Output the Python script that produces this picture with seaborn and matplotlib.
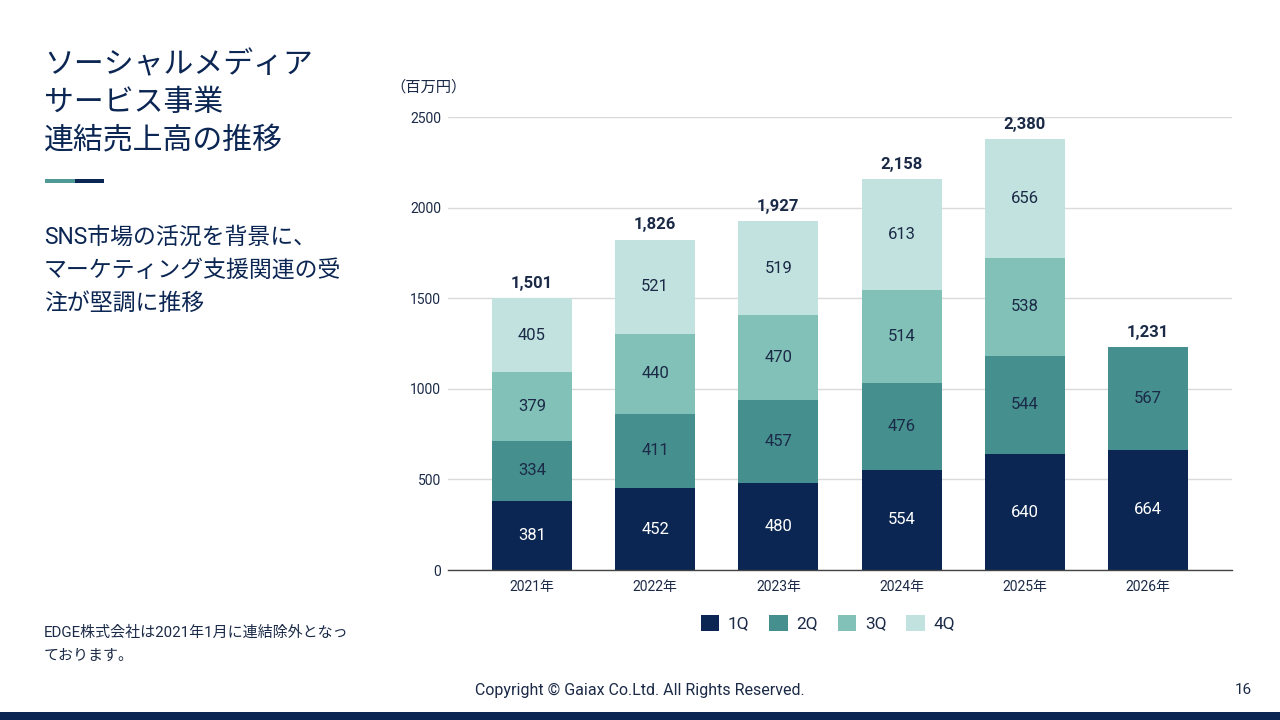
import numpy as np
import pandas as pd
import seaborn as sns
import matplotlib.pyplot as plt
from matplotlib.patches import Patch, Rectangle

# Data
years = ['2021年', '2022年', '2023年', '2024年', '2025年', '2026年']
q1 = [381, 452, 480, 554, 640, 664]
q2 = [334, 411, 457, 476, 544, 567]
q3 = [379, 440, 470, 514, 538, np.nan]
q4 = [405, 521, 519, 613, 656, np.nan]
totals = [1501, 1826, 1927, 2158, 2380, 1231]
quarters = ['1Q', '2Q', '3Q', '4Q']
y_ticks = [0, 500, 1000, 1500, 2000, 2500]

colors = ['#0B2653', '#458F8F', '#82C1B7', '#C1E2DF']
label_colors = ['white', '#1B2A47', '#1B2A47', '#1B2A47']
navy = '#0B2653'
text_col = '#1B2A47'

sns.set_theme(style='white')
plt.rcParams['font.family'] = ['Roboto', 'Noto Sans CJK JP', 'DejaVu Sans']

df = pd.DataFrame({'year': years, '1Q': q1, '2Q': q2, '3Q': q3, '4Q': q4})
layers = df[quarters].to_numpy(dtype=float)
cum = np.cumsum(layers, axis=1)

fig = plt.figure(figsize=(12.8, 7.2), dpi=100)
ax = fig.add_axes([0.35, 0.2083, 0.6125, 0.629])

# stacked bars: draw cumulative heights from top layer down
for i in range(3, -1, -1):
    sns.barplot(x=df['year'], y=cum[:, i], color=colors[i], width=0.65,
                saturation=1, edgecolor='none', linewidth=0, ax=ax, zorder=2)

ax.set_ylim(0, 2500)
ax.set_xlim(-0.68, 5.68)
ax.set_yticks(y_ticks)
ax.set_ylabel('')
ax.set_xlabel('')
ax.yaxis.grid(True, color='#DADADA', linewidth=1, zorder=0)
ax.set_axisbelow(True)
for s in ['top', 'right', 'left']:
    ax.spines[s].set_visible(False)
ax.spines['bottom'].set_color('#444444')
ax.spines['bottom'].set_linewidth(1)
ax.tick_params(axis='both', length=0, labelsize=10, colors=text_col)
ax.tick_params(axis='x', pad=7)
ax.tick_params(axis='y', pad=5)

# segment labels
for j in range(len(years)):
    base = 0
    for i in range(4):
        v = layers[j, i]
        if np.isnan(v):
            continue
        ax.text(j, base + v / 2, f'{int(v)}', ha='center', va='center',
                fontsize=12, color=label_colors[i], zorder=5)
        base += v
    ax.text(j, base + 40, f'{totals[j]:,}', ha='center', va='bottom',
            fontsize=12, fontweight='bold', color=text_col, zorder=5)

# unit label
fig.text(390 / 1280, 1 - 87 / 720, '（百万円）', ha='left', va='center',
         fontsize=11, color=text_col)

# legend
handles = [Patch(facecolor=c, edgecolor='none') for c in colors]
fig.legend(handles, quarters, loc='center', bbox_to_anchor=(828 / 1280, 1 - 623 / 720),
           ncol=4, frameon=False, fontsize=12.5, handlelength=1.05, handleheight=1.05,
           handletextpad=0.5, columnspacing=1.15, labelcolor=text_col)

# title block
title_lines = ['ソーシャルメディア', 'サービス事業', '連結売上高の推移']
for k, line in enumerate(title_lines):
    fig.text(44 / 1280, 1 - (65 + 38 * k) / 720, line, ha='left', va='center',
             fontsize=21.5, color=navy)

fig.patches.append(Rectangle((45 / 1280, 1 - 183 / 720), 30 / 1280, 4 / 720,
                             transform=fig.transFigure, facecolor='#4F9A96', edgecolor='none'))
fig.patches.append(Rectangle((75 / 1280, 1 - 183 / 720), 29 / 1280, 4 / 720,
                             transform=fig.transFigure, facecolor=navy, edgecolor='none'))

sub_lines = ['SNS市場の活況を背景に、', 'マーケティング支援関連の受', '注が堅調に推移']
for k, line in enumerate(sub_lines):
    fig.text(44 / 1280, 1 - (237 + 33 * k) / 720, line, ha='left', va='center',
             fontsize=16.5, color=navy)

note_lines = ['EDGE株式会社は2021年1月に連結除外となっ', 'ております。']
for k, line in enumerate(note_lines):
    fig.text(44 / 1280, 1 - (633 + 23 * k) / 720, line, ha='left', va='center',
             fontsize=10.8, color=text_col)

# footer
fig.text(640 / 1280, 1 - 690 / 720, 'Copyright © Gaiax Co.Ltd. All Rights Reserved.',
         ha='center', va='center', fontsize=11.5, color=text_col)
fig.text(1243 / 1280, 1 - 690 / 720, '16', ha='center', va='center',
         fontsize=11, color=text_col)
fig.patches.append(Rectangle((0, 0), 1, 8 / 720, transform=fig.transFigure,
                             facecolor=navy, edgecolor='none'))

fig.savefig('out.png', dpi=100)
